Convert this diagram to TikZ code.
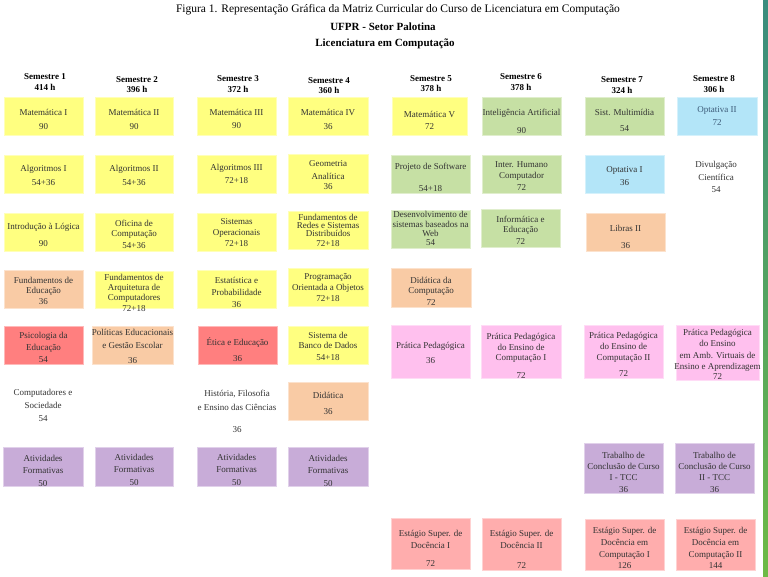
\documentclass[tikz,border=0pt]{standalone}
\usepackage{fontspec}
\setmainfont{Liberation Serif}
\definecolor{cyel}{HTML}{FFFF80}
\definecolor{cgrn}{HTML}{C6E0A4}
\definecolor{cblu}{HTML}{B3E5F8}
\definecolor{cpch}{HTML}{F9CBA5}
\definecolor{cred}{HTML}{FF7F7F}
\definecolor{cpnk}{HTML}{FFC0EE}
\definecolor{clav}{HTML}{C8ACD8}
\definecolor{cest}{HTML}{FFADAD}
\definecolor{ctxt}{HTML}{333333}
\definecolor{cblutxt}{HTML}{3C5A78}
\definecolor{cbartop}{HTML}{3A8C7E}
\definecolor{cbarbot}{HTML}{6DBA45}
\newcommand\boxfont{\fontsize{9}{11}\selectfont}
\tikzset{
  cell/.style={rectangle, inner sep=0pt, outer sep=0pt, line width=0.7pt},
  fyel/.style={cell, fill=cyel, draw=cyel!55!white},
  fgrn/.style={cell, fill=cgrn, draw=cgrn!55!white},
  fblu/.style={cell, fill=cblu, draw=cblu!55!white},
  fpch/.style={cell, fill=cpch, draw=cpch!55!white},
  fred/.style={cell, fill=cred, draw=cred!55!white},
  fpnk/.style={cell, fill=cpnk, draw=cpnk!55!white},
  flav/.style={cell, fill=clav, draw=clav!55!white},
  fest/.style={cell, fill=cest, draw=cest!55!white},
  txt/.style={inner sep=0pt, align=center, font=\boxfont, text=ctxt},
  head/.style={inner sep=0pt, align=center, font=\bfseries\fontsize{9}{10.5}\selectfont, text=black},
}
\newcommand\cbox[8]{%
  \pgfmathsetmacro\cbw{#5-#3}%
  \pgfmathsetmacro\cbh{#6-#4}%
  \node[#2, minimum width=\cbw pt, minimum height=\cbh pt] (#1) at ({(#3+#5)/2},{(#4+#6)/2}) {};
  \node[txt] (#1t) at ({(#3+#5)/2},#7) {#8};}
\begin{document}
\begin{tikzpicture}[x=1pt,y=-1pt]
\useasboundingbox (0,0) rectangle (768,576);
\fill[white] (0,0) rectangle (768,576);
% titles
\node[inner sep=0pt, font=\fontsize{11.5}{13}\selectfont] (title) at (398,9.5) {Figura 1. Representação Gráfica da Matriz Curricular do Curso de Licenciatura em Computação};
\node[inner sep=0pt, font=\bfseries\fontsize{11}{13}\selectfont] (ufpr) at (383,27) {UFPR - Setor Palotina};
\node[inner sep=0pt, font=\bfseries\fontsize{11}{13}\selectfont] (lic) at (385,44) {Licenciatura em Computação};
% headers
\node[head] (s1) at (45,82) {Semestre 1\\414 h};
\node[head] (s2) at (137,84.5) {Semestre 2\\396 h};
\node[head] (s3) at (238,84) {Semestre 3\\372 h};
\node[head] (s4) at (329,85.5) {Semestre 4\\360 h};
\node[head] (s5) at (431,83.5) {Semestre 5\\378 h};
\node[head] (s6) at (521,82) {Semestre 6\\378 h};
\node[head] (s7) at (622,85) {Semestre 7\\324 h};
\node[head] (s8) at (714,84) {Semestre 8\\306 h};
% row 1
\cbox{mat1}{fyel}{4}{97}{83}{135}{119}{Matemática I\\[3pt]90}
\cbox{mat2}{fyel}{95}{97}{173}{135}{119}{Matemática II\\[3pt]90}
\cbox{mat3}{fyel}{197}{97}{276}{135}{118.5}{Matemática III\\[2pt]90}
\cbox{mat4}{fyel}{288}{97}{368}{135}{119}{Matemática IV\\[3pt]36}
\cbox{mat5}{fyel}{392}{97}{467}{135}{120}{Matemática V\\[1pt]72}
\cbox{ia}{fgrn}{482}{97}{561}{135}{121}{Inteligência Artificial\\[7pt]90}
\cbox{multi}{fgrn}{585}{97}{664}{135}{120}{Sist. Multimídia\\[5pt]54}
\node[fblu, minimum width=80pt, minimum height=38pt] (opt2) at (717,116) {};
\node[txt, text=cblutxt] (opt2t) at (717,116.5) {Optativa II\\[2pt]72};
% row 2
\cbox{alg1}{fyel}{4}{155}{83}{193}{175}{Algoritmos I\\[3pt]54+36}
\cbox{alg2}{fyel}{95}{155}{173}{193}{175}{Algoritmos II\\[3pt]54+36}
\cbox{alg3}{fyel}{197}{155}{276}{193}{173.5}{Algoritmos III\\[2pt]72+18}
\cbox{geo}{fyel}{288}{154}{368}{193}{175.5}{Geometria\\[2pt]Analítica\\[-1pt]36}
\cbox{proj}{fgrn}{391}{155}{470}{193}{177}{Projeto de Software\\[11pt]54+18}
\cbox{ihc}{fgrn}{482}{155}{561}{193}{176.5}{Inter. Humano\\Computador\\[1pt]72}
\cbox{opt1}{fblu}{585}{155}{664}{193}{176.5}{Optativa I\\[2pt]36}
\node[txt] (divulg) at (716,176.5) {Divulgação\\[2pt]Científica\\[1pt]54};
% row 3
\cbox{intro}{fyel}{4}{213}{83}{251}{234.5}{Introdução à Lógica\\[6pt]90}
\cbox{ofic}{fyel}{95}{213}{173}{251}{234}{Oficina de\\[-1pt]Computação\\[1pt]54+36}
\cbox{so}{fyel}{197}{213}{276}{251}{233}{Sistemas\\Operacionais\\72+18}
\cbox{redes}{fyel}{288}{211}{368}{249}{230}{Fundamentos de\\[-3pt]Redes e Sistemas\\[-3pt]Distribuídos\\[-1pt]72+18}
\cbox{web}{fgrn}{391}{210}{470}{248}{228.5}{Desenvolvimento de\\[-1pt]sistemas baseados na\\[-2pt]Web\\[-2.5pt]54}
\cbox{infed}{fgrn}{481}{209}{560}{247}{230}{Informática e\\[-1pt]Educação\\[1pt]72}
\cbox{libras}{fpch}{586}{213}{665}{251}{236.5}{Libras II\\[6pt]36}
% row 4
\cbox{fed}{fpch}{4}{270}{83}{308}{290.5}{Fundamentos de\\[-1pt]Educação\\36}
\cbox{arq}{fyel}{95}{271}{173}{308}{292.5}{Fundamentos de\\[-1pt]Arquitetura de\\[-1pt]Computadores\\72+18}
\cbox{estat}{fyel}{197}{270}{276}{308}{292}{Estatística e\\[1pt]Probabilidade\\[1pt]36}
\cbox{poo}{fyel}{288}{268}{368}{306}{288}{Programação\\Orientada a Objetos\\72+18}
\cbox{didc}{fpch}{391}{268}{471}{307}{291}{Didática da\\[-1pt]Computação\\[1pt]72}
% row 5
\cbox{psico}{fred}{4}{326}{83}{364}{347}{Psicologia da\\[1pt]Educação\\[1pt]54}
\cbox{polit}{fpch}{92}{326}{173}{364}{346}{Políticas Educacionais\\[2pt]e Gestão Escolar\\[4pt]36}
\cbox{etica}{fred}{198}{326}{277}{364}{350}{Ética e Educação\\[5pt]36}
\cbox{bd}{fyel}{288}{326}{368}{364}{346}{Sistema de\\[-1pt]Banco de Dados\\[1pt]54+18}
\cbox{pp}{fpnk}{391}{325}{470}{378}{352.5}{Prática Pedagógica\\[4pt]36}
\cbox{ppa}{fpnk}{481}{325}{561}{378}{355.5}{Prática Pedagógica\\do Ensino de\\[-1pt]Computação I\\[7pt]72}
\cbox{ppb}{fpnk}{584}{325}{663}{378}{354}{Prática Pedagógica\\do Ensino de\\Computação II\\[5pt]72}
\cbox{ppc}{fpnk}{676}{325}{759}{380}{354}{Prática Pedagógica\\do Ensino\\[1pt]em Amb. Virtuais de\\Ensino e Aprendizagem\\[-1pt]72}
% row 6
\node[txt] (compsoc) at (43,405) {Computadores e\\[2pt]Sociedade\\[2pt]54};
\node[txt] (hist) at (237,411) {História, Filosofia\\[3pt]e Ensino das Ciências\\[11pt]36};
\cbox{did}{fpch}{288}{382}{368}{420}{403}{Didática\\[5pt]36}
% row 7
\cbox{afa}{flav}{3}{447}{83}{486}{470.5}{Atividades\\[1pt]Formativas\\[2pt]50}
\cbox{afb}{flav}{95}{447}{173}{486}{469.5}{Atividades\\[1pt]Formativas\\[2pt]50}
\cbox{afc}{flav}{197}{447}{276}{486}{470}{Atividades\\[1pt]Formativas\\[2pt]50}
\cbox{afd}{flav}{288}{447}{368}{486}{470.5}{Atividades\\[1pt]Formativas\\[2pt]50}
\cbox{tcca}{flav}{584}{443}{663}{493}{472}{Trabalho de\\Conclusão de Curso\\I - TCC\\[1pt]36}
\cbox{tccb}{flav}{675}{443}{754}{493}{472}{Trabalho de\\Conclusão de Curso\\II - TCC\\[1pt]36}
% row 8
\cbox{esta}{fest}{391}{518}{470}{569}{548}{Estágio Super. de\\[1pt]Docência I\\[7pt]72}
\cbox{estb}{fest}{482}{518}{561}{570}{549}{Estágio Super. de\\[1pt]Docência II\\[9pt]72}
\cbox{estc}{fest}{585}{519}{664}{570}{547.5}{Estágio Super. de\\[1pt]Docência em\\[1pt]Computação I\\126}
\cbox{estd}{fest}{676}{519}{755}{570}{547.5}{Estágio Super. de\\[1pt]Docência em\\[1pt]Computação II\\144}
% side bar
\shade[top color=cbartop, bottom color=cbarbot] (763,0) rectangle (768,576);
\end{tikzpicture}
\end{document}
